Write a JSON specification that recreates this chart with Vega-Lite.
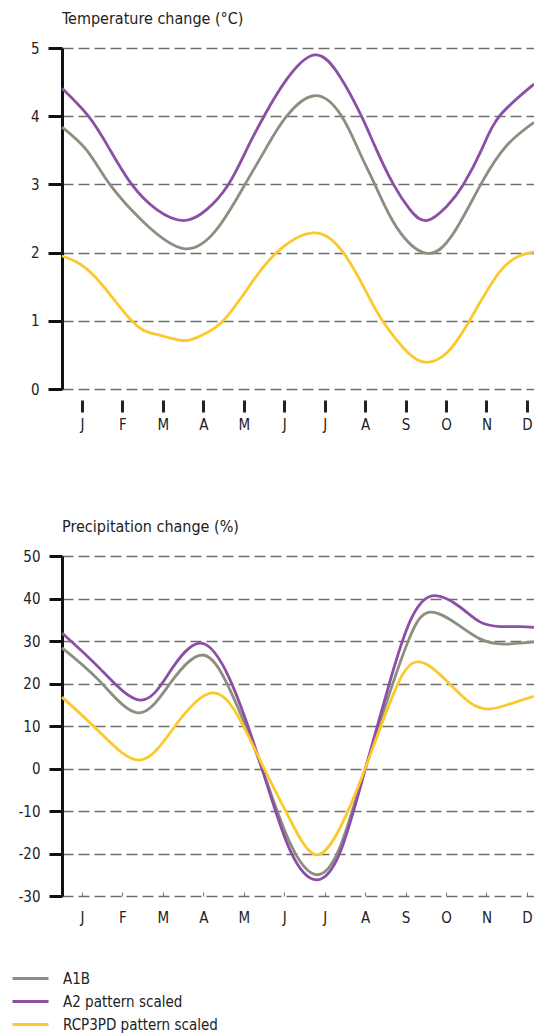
{
  "$schema": "https://vega.github.io/schema/vega-lite/v6.json",
  "padding": {"left": 17, "top": 11, "right": 0, "bottom": 0},
  "autosize": {"type": "pad"},
  "config": {
    "font": "DejaVu Sans Condensed, Roboto, sans-serif",
    "view": {"stroke": null},
    "axis": {"labelFontSize": 15, "labelColor": "#222", "titleFontSize": 15},
    "title": {"anchor": "start", "frame": "group", "fontSize": 16, "fontWeight": "normal", "color": "#222", "offset": 14},
    "line": {"interpolate": "natural", "strokeWidth": 2.8}
  },
  "datasets": {
    "temp": [
      {"s": "A1B", "m": -0.494, "v": 3.84}, {"s": "A1B", "m": 0.12, "v": 3.5}, {"s": "A1B", "m": 0.69, "v": 3.0}, {"s": "A1B", "m": 1.52, "v": 2.45}, {"s": "A1B", "m": 2.51, "v": 2.06}, {"s": "A1B", "m": 3.33, "v": 2.34}, {"s": "A1B", "m": 4.03, "v": 3.0}, {"s": "A1B", "m": 4.57, "v": 3.55}, {"s": "A1B", "m": 5.06, "v": 4.0}, {"s": "A1B", "m": 5.76, "v": 4.3}, {"s": "A1B", "m": 6.42, "v": 4.0}, {"s": "A1B", "m": 6.87, "v": 3.46}, {"s": "A1B", "m": 7.24, "v": 3.0}, {"s": "A1B", "m": 7.78, "v": 2.37}, {"s": "A1B", "m": 8.52, "v": 1.99}, {"s": "A1B", "m": 9.18, "v": 2.28}, {"s": "A1B", "m": 9.86, "v": 3.0}, {"s": "A1B", "m": 10.5, "v": 3.57}, {"s": "A1B", "m": 11.175, "v": 3.91},
      {"s": "A2 pattern scaled", "m": -0.494, "v": 4.41}, {"s": "A2 pattern scaled", "m": 0.16, "v": 4.0}, {"s": "A2 pattern scaled", "m": 0.69, "v": 3.51}, {"s": "A2 pattern scaled", "m": 1.23, "v": 3.0}, {"s": "A2 pattern scaled", "m": 1.85, "v": 2.63}, {"s": "A2 pattern scaled", "m": 2.51, "v": 2.47}, {"s": "A2 pattern scaled", "m": 3.08, "v": 2.63}, {"s": "A2 pattern scaled", "m": 3.62, "v": 3.0}, {"s": "A2 pattern scaled", "m": 4.07, "v": 3.51}, {"s": "A2 pattern scaled", "m": 4.5, "v": 4.0}, {"s": "A2 pattern scaled", "m": 5.06, "v": 4.54}, {"s": "A2 pattern scaled", "m": 5.76, "v": 4.9}, {"s": "A2 pattern scaled", "m": 6.38, "v": 4.58}, {"s": "A2 pattern scaled", "m": 6.91, "v": 4.0}, {"s": "A2 pattern scaled", "m": 7.28, "v": 3.51}, {"s": "A2 pattern scaled", "m": 7.7, "v": 3.0}, {"s": "A2 pattern scaled", "m": 8.11, "v": 2.63}, {"s": "A2 pattern scaled", "m": 8.52, "v": 2.47}, {"s": "A2 pattern scaled", "m": 9.02, "v": 2.68}, {"s": "A2 pattern scaled", "m": 9.43, "v": 3.0}, {"s": "A2 pattern scaled", "m": 9.88, "v": 3.51}, {"s": "A2 pattern scaled", "m": 10.32, "v": 4.0}, {"s": "A2 pattern scaled", "m": 11.175, "v": 4.47},
      {"s": "RCP3PD pattern scaled", "m": -0.494, "v": 1.95}, {"s": "RCP3PD pattern scaled", "m": 0.28, "v": 1.67}, {"s": "RCP3PD pattern scaled", "m": 1.23, "v": 1.0}, {"s": "RCP3PD pattern scaled", "m": 1.85, "v": 0.8}, {"s": "RCP3PD pattern scaled", "m": 2.51, "v": 0.71}, {"s": "RCP3PD pattern scaled", "m": 3.0, "v": 0.8}, {"s": "RCP3PD pattern scaled", "m": 3.49, "v": 1.0}, {"s": "RCP3PD pattern scaled", "m": 4.15, "v": 1.52}, {"s": "RCP3PD pattern scaled", "m": 4.81, "v": 2.0}, {"s": "RCP3PD pattern scaled", "m": 5.72, "v": 2.29}, {"s": "RCP3PD pattern scaled", "m": 6.46, "v": 2.0}, {"s": "RCP3PD pattern scaled", "m": 7.04, "v": 1.41}, {"s": "RCP3PD pattern scaled", "m": 7.43, "v": 1.0}, {"s": "RCP3PD pattern scaled", "m": 8.03, "v": 0.55}, {"s": "RCP3PD pattern scaled", "m": 8.52, "v": 0.39}, {"s": "RCP3PD pattern scaled", "m": 9.02, "v": 0.53}, {"s": "RCP3PD pattern scaled", "m": 9.58, "v": 1.0}, {"s": "RCP3PD pattern scaled", "m": 10.33, "v": 1.72}, {"s": "RCP3PD pattern scaled", "m": 10.9, "v": 1.97}, {"s": "RCP3PD pattern scaled", "m": 11.175, "v": 2.01}
    ],
    "precip": [
      {"s": "A1B", "m": -0.494, "v": 28.4}, {"s": "A1B", "m": 0.445, "v": 20.5}, {"s": "A1B", "m": 1.384, "v": 13.1}, {"s": "A1B", "m": 2.176, "v": 20.0}, {"s": "A1B", "m": 2.967, "v": 26.7}, {"s": "A1B", "m": 3.659, "v": 18.5}, {"s": "A1B", "m": 4.45, "v": 0.0}, {"s": "A1B", "m": 5.142, "v": -17.5}, {"s": "A1B", "m": 5.81, "v": -25.0}, {"s": "A1B", "m": 6.378, "v": -18.5}, {"s": "A1B", "m": 6.922, "v": -2.5}, {"s": "A1B", "m": 7.614, "v": 18.0}, {"s": "A1B", "m": 8.109, "v": 31.0}, {"s": "A1B", "m": 8.603, "v": 36.8}, {"s": "A1B", "m": 9.345, "v": 33.5}, {"s": "A1B", "m": 9.839, "v": 30.5}, {"s": "A1B", "m": 10.334, "v": 29.3}, {"s": "A1B", "m": 10.828, "v": 29.5}, {"s": "A1B", "m": 11.174, "v": 29.8},
      {"s": "A2 pattern scaled", "m": -0.494, "v": 31.9}, {"s": "A2 pattern scaled", "m": 0.445, "v": 23.5}, {"s": "A2 pattern scaled", "m": 1.434, "v": 16.1}, {"s": "A2 pattern scaled", "m": 2.176, "v": 22.8}, {"s": "A2 pattern scaled", "m": 2.917, "v": 29.5}, {"s": "A2 pattern scaled", "m": 3.659, "v": 20.9}, {"s": "A2 pattern scaled", "m": 4.45, "v": 0.0}, {"s": "A2 pattern scaled", "m": 5.142, "v": -19.2}, {"s": "A2 pattern scaled", "m": 5.81, "v": -26.2}, {"s": "A2 pattern scaled", "m": 6.378, "v": -19.8}, {"s": "A2 pattern scaled", "m": 6.922, "v": -3.0}, {"s": "A2 pattern scaled", "m": 7.614, "v": 20.5}, {"s": "A2 pattern scaled", "m": 8.109, "v": 34.6}, {"s": "A2 pattern scaled", "m": 8.653, "v": 40.6}, {"s": "A2 pattern scaled", "m": 9.345, "v": 38.0}, {"s": "A2 pattern scaled", "m": 9.839, "v": 34.5}, {"s": "A2 pattern scaled", "m": 10.334, "v": 33.4}, {"s": "A2 pattern scaled", "m": 10.828, "v": 33.4}, {"s": "A2 pattern scaled", "m": 11.174, "v": 33.2},
      {"s": "RCP3PD pattern scaled", "m": -0.494, "v": 16.8}, {"s": "RCP3PD pattern scaled", "m": 0.445, "v": 8.5}, {"s": "RCP3PD pattern scaled", "m": 1.434, "v": 2.0}, {"s": "RCP3PD pattern scaled", "m": 2.3, "v": 10.0}, {"s": "RCP3PD pattern scaled", "m": 3.214, "v": 17.8}, {"s": "RCP3PD pattern scaled", "m": 3.906, "v": 11.5}, {"s": "RCP3PD pattern scaled", "m": 4.45, "v": 1.0}, {"s": "RCP3PD pattern scaled", "m": 5.142, "v": -12.0}, {"s": "RCP3PD pattern scaled", "m": 5.785, "v": -20.3}, {"s": "RCP3PD pattern scaled", "m": 6.378, "v": -14.0}, {"s": "RCP3PD pattern scaled", "m": 6.922, "v": -2.0}, {"s": "RCP3PD pattern scaled", "m": 7.614, "v": 15.5}, {"s": "RCP3PD pattern scaled", "m": 8.232, "v": 25.0}, {"s": "RCP3PD pattern scaled", "m": 8.974, "v": 21.0}, {"s": "RCP3PD pattern scaled", "m": 9.592, "v": 15.5}, {"s": "RCP3PD pattern scaled", "m": 10.087, "v": 14.0}, {"s": "RCP3PD pattern scaled", "m": 10.581, "v": 15.2}, {"s": "RCP3PD pattern scaled", "m": 11.174, "v": 17.0}
    ]
  },
  "spacing": 87,
  "resolve": {"legend": {"color": "independent"}},
  "vconcat": [
    {
      "width": 472,
      "height": 341,
      "title": {"text": "Temperature change (°C)"},
      "data": {"name": "temp"},
      "mark": {"type": "line"},
      "encoding": {
        "x": {
          "field": "m", "type": "quantitative",
          "scale": {"domain": [-0.494, 11.175], "nice": false, "zero": false},
          "axis": {"title": null, "grid": false, "domain": false, "values": [0,1,2,3,4,5,6,7,8,9,10,11],
                   "labelExpr": "['J','F','M','A','M','J','J','A','S','O','N','D'][datum.value]",
                   "offset": 11, "tickSize": 12, "tickWidth": 3, "tickColor": "#222", "labelPadding": 5}
        },
        "y": {
          "field": "v", "type": "quantitative",
          "scale": {"domain": [0, 5], "nice": false, "zero": false},
          "axis": {"title": null, "values": [0,1,2,3,4,5], "domainWidth": 3, "domainColor": "#111",
                   "tickSize": 14, "tickWidth": 3, "tickColor": "#111", "labelPadding": 9,
                   "grid": true, "gridDash": [11, 5], "gridColor": "#6e6e6e", "gridWidth": 1.5}
        },
        "color": {
          "field": "s", "type": "nominal",
          "scale": {"domain": ["A1B", "A2 pattern scaled", "RCP3PD pattern scaled"], "range": ["#8d8e80", "#8b4fa6", "#fdc82b"]},
          "legend": null
        }
      }
    },
    {
      "width": 472,
      "height": 340,
      "title": {"text": "Precipitation change (%)"},
      "data": {"name": "precip"},
      "mark": {"type": "line"},
      "encoding": {
        "x": {
          "field": "m", "type": "quantitative",
          "scale": {"domain": [-0.494, 11.175], "nice": false, "zero": false},
          "axis": {"title": null, "grid": false, "domain": false, "values": [0,1,2,3,4,5,6,7,8,9,10,11],
                   "labelExpr": "['J','F','M','A','M','J','J','A','S','O','N','D'][datum.value]",
                   "tickSize": -4, "tickWidth": 1, "tickColor": "#777", "labelPadding": 18}
        },
        "y": {
          "field": "v", "type": "quantitative",
          "scale": {"domain": [-30, 50], "nice": false, "zero": false},
          "axis": {"title": null, "values": [-30,-20,-10,0,10,20,30,40,50], "labelExpr": "toString(datum.value)",
                   "domainWidth": 3, "domainColor": "#111",
                   "tickSize": 13, "tickWidth": 3, "tickColor": "#111", "labelPadding": 9,
                   "grid": true, "gridDash": [11, 5], "gridColor": "#6e6e6e", "gridWidth": 1.5}
        },
        "color": {
          "field": "s", "type": "nominal",
          "scale": {"domain": ["A1B", "A2 pattern scaled", "RCP3PD pattern scaled"], "range": ["#8d8e80", "#8b4fa6", "#fdc82b"]},
          "legend": {"orient": "none", "legendX": -42, "legendY": 412, "title": null,
                     "symbolType": "M-2,0H2", "symbolSize": 324, "symbolStrokeWidth": 3,
                     "labelFontSize": 15, "labelColor": "#222", "labelOffset": 22, "rowPadding": 4}
        }
      }
    }
  ]
}
